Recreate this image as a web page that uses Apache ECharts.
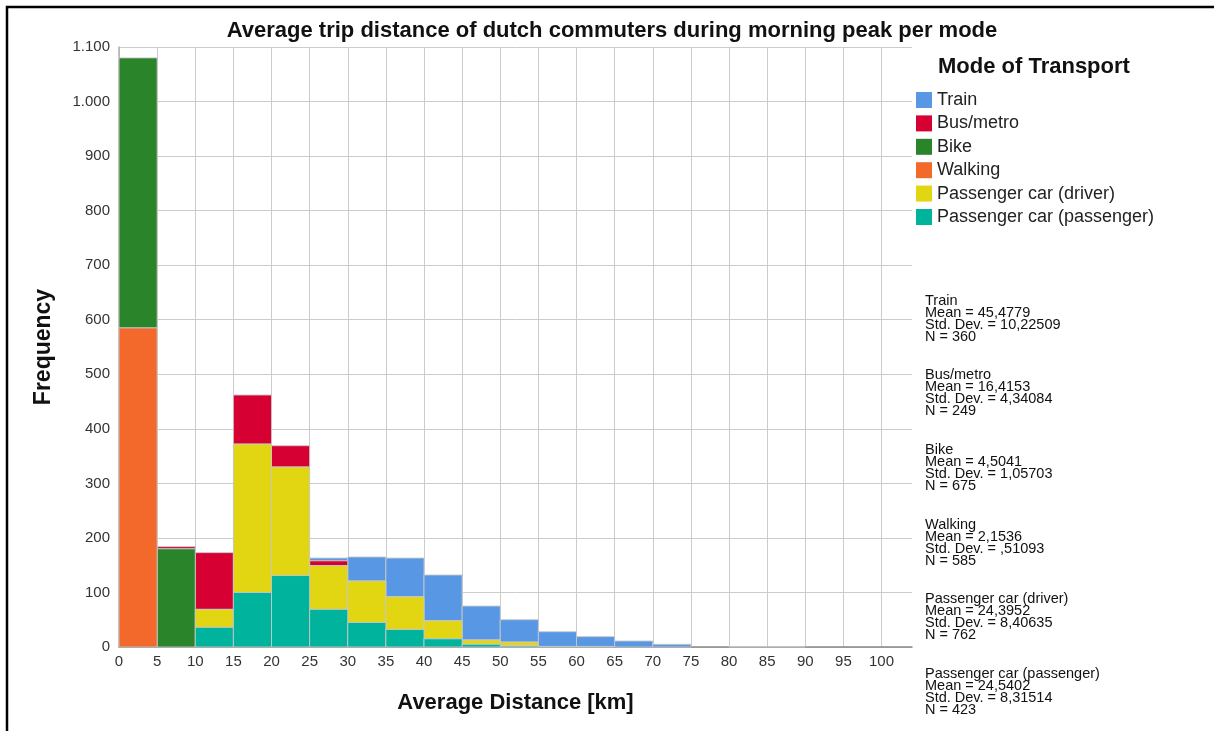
<!DOCTYPE html>
<html>
<head>
<meta charset="utf-8">
<script src="https://cdn.jsdelivr.net/npm/echarts@6/dist/echarts.min.js"></script>
<style>
html,body{margin:0;padding:0;background:#fff;}
#chart{width:1214px;height:731px;}
</style>
</head>
<body>
<div id="chart"></div>
<script>
// ---- data ----
const binWidth = 5;
const binStarts = [0,5,10,15,20,25,30,35,40,45,50,55,60,65,70,75,80,85,90,95];
// frequencies per 5 km bin
const passengerCounts = [0,0,36,100,131,69,45,32,15,5,2,1,1,0,0,0,0,0,0,0];
const driverCounts    = [0,0,33,272,199,80,76,60,33,8,7,0,0,0,0,0,0,0,0,0];
const walkingCounts   = [585,0,0,0,0,0,0,0,0,0,0,0,0,0,0,0,0,0,0,0];
const bikeCounts      = [495,180,0,0,0,0,0,0,0,0,0,0,0,0,0,0,0,0,0,0];
const busCounts       = [0,4,104,90,39,9,0,0,0,0,0,0,0,0,0,0,0,0,0,0];
const trainCounts     = [0,0,0,0,0,5,44,71,84,62,41,27,18,11,5,0,1,1,0,0];

const modeNames  = ['Train','Bus/metro','Bike','Walking','Passenger car (driver)','Passenger car (passenger)'];
const modeColors = ['#5797e4','#d60032','#2a8429','#f2692b','#e2d511','#00b39d'];
// stacking order bottom -> top
const stackOrder = [5,4,3,2,1,0];
const modeCounts = [trainCounts,busCounts,bikeCounts,walkingCounts,driverCounts,passengerCounts];

const statMeans = ['45,4779','16,4153','4,5041','2,1536','24,3952','24,5402'];
const statStds  = ['10,22509','4,34084','1,05703',',51093','8,40635','8,31514'];
const statNs    = ['360','249','675','585','762','423'];

const yTickLabels = {0:'0',100:'100',200:'200',300:'300',400:'400',500:'500',600:'600',700:'700',800:'800',900:'900',1000:'1.000',1100:'1.100'};

// ---- build stacked segments ----
const cum = binStarts.map(() => 0);
const seriesByMode = {};
stackOrder.forEach(m => {
  const data = [];
  modeCounts[m].forEach((v, i) => {
    const base = cum[i];
    cum[i] += v;
    if (v > 0) data.push([binStarts[i], binStarts[i] + binWidth, base, base + v]);
  });
  seriesByMode[m] = data;
});

function renderItem(params, api) {
  const p0 = api.coord([api.value(0), api.value(2)]);
  const p1 = api.coord([api.value(1), api.value(3)]);
  return {
    type: 'rect',
    shape: {x: p0[0], y: p1[1], width: p1[0] - p0[0], height: p0[1] - p1[1]},
    style: {fill: api.visual('color'), stroke: 'rgba(200,200,200,0.9)', lineWidth: 1}
  };
}

const series = modeNames.map((name, m) => ({
  type: 'custom',
  name: name,
  renderItem: renderItem,
  itemStyle: {color: modeColors[m]},
  encode: {x: [0, 1], y: [2, 3]},
  data: seriesByMode[m],
  z: 2
}));

const FONT = "'Liberation Sans', Arial, sans-serif";

const graphics = [
  {type:'rect', shape:{x:7, y:7, width:1400, height:1000}, style:{fill:'none', stroke:'#000', lineWidth:2.5}, silent:true},
  {type:'text', x:612, y:31, style:{text:'Average trip distance of dutch commuters during morning peak per mode', font:'bold 22px ' + FONT, fill:'#111', textAlign:'center', textVerticalAlign:'middle'}},
  {type:'text', x:938, y:67, style:{text:'Mode of Transport', font:'bold 22px ' + FONT, fill:'#111', textAlign:'left', textVerticalAlign:'middle'}}
];
modeNames.forEach((name, i) => {
  graphics.push({
    type:'text', x:925, y:294.5 + 74.7 * i,
    style:{
      text: name + '\nMean = ' + statMeans[i] + '\nStd. Dev. = ' + statStds[i] + '\nN = ' + statNs[i],
      font: '14.5px ' + FONT, lineHeight: 12, fill:'#111', textAlign:'left', textVerticalAlign:'top'
    }
  });
});

const chart = echarts.init(document.getElementById('chart'), null, {renderer:'canvas'});
chart.setOption({
  backgroundColor: '#fff',
  animation: false,
  grid: {left:119, right:302, top:47, bottom:84, containLabel:false},
  legend: {
    data: modeNames, orient:'vertical', left:916, top:91, padding:0,
    itemWidth:16, itemHeight:16, itemGap:5.4, icon:'rect', selectedMode:false,
    textStyle:{fontSize:18, color:'#222', fontFamily:FONT}
  },
  xAxis: {
    type:'value', min:0, max:104, interval:5,
    name:'Average Distance [km]', nameLocation:'middle', nameGap:45,
    nameTextStyle:{fontSize:22, fontWeight:'bold', color:'#111', fontFamily:FONT},
    axisLine:{show:true, onZero:false, lineStyle:{color:'#888', width:1.5}},
    axisTick:{show:false},
    axisLabel:{margin:7, fontSize:15, color:'#333', fontFamily:FONT, showMaxLabel:false,
      formatter: v => (v % 5 === 0 && v <= 100) ? String(v) : ''},
    splitLine:{show:true, showMaxLine:false, lineStyle:{color:'#cccccc', width:1}}
  },
  yAxis: {
    type:'value', min:0, max:1100, interval:100,
    name:'Frequency', nameLocation:'middle', nameGap:64,
    nameTextStyle:{fontSize:23, fontWeight:'bold', color:'#111', fontFamily:FONT},
    axisLine:{show:true, lineStyle:{color:'#b0b0b0', width:1.5}},
    axisTick:{show:false},
    axisLabel:{margin:9, fontSize:15, color:'#333', fontFamily:FONT,
      formatter: v => yTickLabels[v] !== undefined ? yTickLabels[v] : ''},
    splitLine:{show:true, lineStyle:{color:'#cccccc', width:1}}
  },
  graphic: graphics,
  series: series
});
</script>
</body>
</html>
